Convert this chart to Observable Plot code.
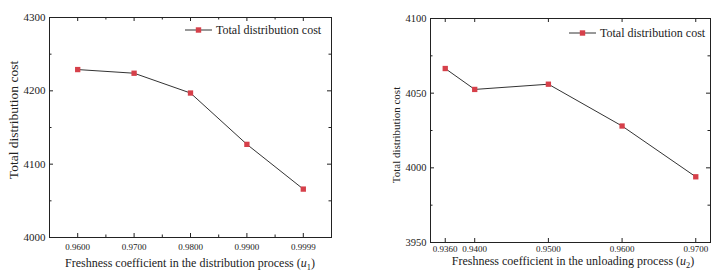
<!DOCTYPE html>
<html>
<head>
<meta charset="utf-8">
<script src="https://cdn.jsdelivr.net/npm/d3@7"></script>
<script src="https://cdn.jsdelivr.net/npm/@observablehq/plot@0.6"></script>
<style>
  body { margin: 0; background: #fff; }
  #wrap { position: relative; width: 722px; height: 278px; font-family: "Liberation Serif", "Times New Roman", serif; color: #222; }
  #wrap > svg { position: absolute; top: 0; }
  .t { position: absolute; white-space: nowrap; line-height: 1; }
  .yt { transform: translate(-50%, -50%) rotate(-90deg); }
  .xt { transform: translate(-50%, -50%); }
  .lg { position: absolute; display: flex; align-items: center; font-size: 12px; white-space: nowrap; line-height: 1; }
  sub { font-size: 0.7em; }
</style>
</head>
<body>
<div id="wrap"></div>
<script>
// ---- Data: left panel (freshness coefficient in distribution process u1)
const u1Labels = ["0.9600", "0.9700", "0.9800", "0.9900", "0.9999"];
const cost1 = [4229, 4224, 4197, 4127, 4066];
const y1Ticks = [4000, 4100, 4200, 4300];
const y1Minor = [4050, 4150, 4250];

// ---- Data: right panel (freshness coefficient in unloading process u2)
const u2 = [0.936, 0.940, 0.950, 0.960, 0.970];
const cost2 = [4066.5, 4052.5, 4056, 4028, 3994];
const y2Ticks = [3950, 4000, 4050, 4100];
const y2Minor = [3975, 4025, 4075];

const seriesName = "Total distribution cost";
const lineColor = "#333";
const markColor = "#d6404a";
const axisColor = "#222";

const wrap = document.getElementById("wrap");
const baseStyle = {fontFamily: "Liberation Serif, Times New Roman, serif", color: "#222", background: "transparent", overflow: "visible"};

// inward ticks on all four sides of the frame
function innerTicks(xMajor, xMinor, yMajor, yMinor, W, H) {
  const big = 4, small = 2.5;
  const m = [];
  const xs = [[xMajor, big], [xMinor, small]];
  const ys = [[yMajor, big], [yMinor, small]];
  for (const [arr, len] of xs) {
    if (!arr.length) continue;
    m.push(Plot.tickX(arr, {x: d => d, insetTop: H - len, stroke: axisColor}));
    m.push(Plot.tickX(arr, {x: d => d, insetBottom: H - len, stroke: axisColor}));
  }
  for (const [arr, len] of ys) {
    if (!arr.length) continue;
    m.push(Plot.tickY(arr, {y: d => d, insetRight: W - len, stroke: axisColor}));
    m.push(Plot.tickY(arr, {y: d => d, insetLeft: W - len, stroke: axisColor}));
  }
  return m;
}

// Left panel
const idx = u1Labels.map((d, i) => i);
const minor1 = idx.slice(1).map(i => i - 0.5);
const rows1 = idx.map(i => ({x: i, y: cost1[i]}));
const L = {width: 361, height: 278, ml: 49, mr: 30, mt: 17, mb: 41};
const left = Plot.plot({
  width: L.width, height: L.height,
  marginLeft: L.ml, marginRight: L.mr, marginTop: L.mt, marginBottom: L.mb,
  style: baseStyle,
  x: {domain: [-0.5, u1Labels.length - 0.5]},
  y: {domain: [4000, 4300]},
  marks: [
    Plot.axisX({ticks: idx, tickFormat: i => u1Labels[i], tickSize: 0, tickPadding: 6, fontSize: 9, label: null}),
    Plot.axisY({ticks: y1Ticks, tickFormat: d3.format("d"), tickSize: 0, tickPadding: 4, fontSize: 11, label: null}),
    ...innerTicks(idx, minor1, y1Ticks, y1Minor, L.width - L.ml - L.mr, L.height - L.mt - L.mb),
    Plot.frame({stroke: axisColor}),
    Plot.line(rows1, {x: "x", y: "y", stroke: lineColor, strokeWidth: 1}),
    Plot.dot(rows1, {x: "x", y: "y", symbol: "square", r: 3, fill: markColor, stroke: "none"})
  ]
});
left.style.left = "0px";
wrap.appendChild(left);

// Right panel
const rows2 = u2.map((u, i) => ({x: u, y: cost2[i]}));
const R = {width: 361, height: 278, ml: 69, mr: 12, mt: 18, mb: 36};
const right = Plot.plot({
  width: R.width, height: R.height,
  marginLeft: R.ml, marginRight: R.mr, marginTop: R.mt, marginBottom: R.mb,
  style: baseStyle,
  x: {domain: [0.934, 0.972]},
  y: {domain: [3950, 4100]},
  marks: [
    Plot.axisX({ticks: u2, tickFormat: d3.format(".4f"), tickSize: 0, tickPadding: 3, fontSize: 9, label: null}),
    Plot.axisY({ticks: y2Ticks, tickFormat: d3.format("d"), tickSize: 0, tickPadding: 4, fontSize: 10.5, label: null}),
    ...innerTicks(u2, [], y2Ticks, y2Minor, R.width - R.ml - R.mr, R.height - R.mt - R.mb),
    Plot.frame({stroke: axisColor}),
    Plot.line(rows2, {x: "x", y: "y", stroke: lineColor, strokeWidth: 1}),
    Plot.dot(rows2, {x: "x", y: "y", symbol: "square", r: 3, fill: markColor, stroke: "none"})
  ]
});
right.style.left = "361px";
wrap.appendChild(right);

// Titles
function addText(html, cls, x, y, size) {
  const d = document.createElement("div");
  d.className = "t " + cls;
  d.style.left = x + "px";
  d.style.top = y + "px";
  d.style.fontSize = size + "px";
  d.innerHTML = html;
  wrap.appendChild(d);
}
addText("Total distribution cost", "yt", 14, 120, 13.5);
addText("Total distribution cost", "yt", 396, 135, 11);
addText("Freshness coefficient in the distribution process (<i>u</i><sub>1</sub>)", "xt", 190, 265, 12);
addText("Freshness coefficient in the unloading process (<i>u</i><sub>2</sub>)", "xt", 573, 263, 12);

// Legends
function addLegend(x, y) {
  const d = document.createElement("div");
  d.className = "lg";
  d.style.left = x + "px";
  d.style.top = (y - 6) + "px";
  d.style.height = "12px";
  d.innerHTML = `<svg width="28" height="12" style="margin-right:3px"><line x1="0" x2="27" y1="6" y2="6" stroke="${lineColor}" stroke-width="1"/><rect x="10.8" y="3.3" width="5.4" height="5.4" fill="${markColor}"/></svg><span>${seriesName}</span>`;
  wrap.appendChild(d);
}
addLegend(185, 30);
addLegend(569, 33);
</script>
</body>
</html>
